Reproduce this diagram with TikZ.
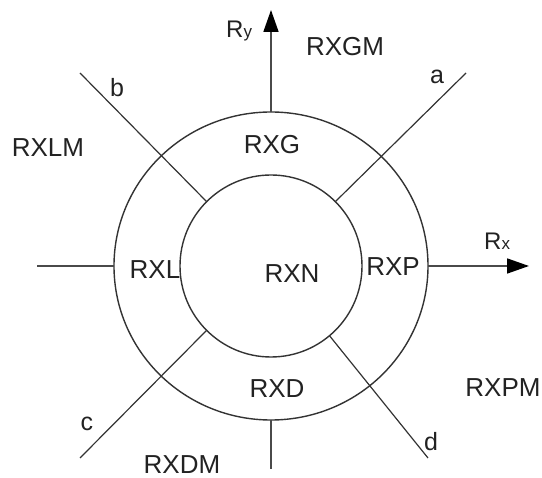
\documentclass[tikz,border=0pt]{standalone}
\usepackage{fontspec}
\setmainfont{Liberation Sans}
\usetikzlibrary{shapes.geometric,arrows.meta}
\definecolor{ink}{HTML}{222222}
\definecolor{linecol}{HTML}{333333}
\definecolor{axiscol}{HTML}{4A4A4A}
\tikzset{
  ring/.style={draw=linecol, line width=1.4pt, inner sep=0pt, outer sep=0pt},
  spoke/.style={draw=linecol, line width=1.2pt},
  axis/.style={draw=axiscol, line width=1.7pt},
  axisarrow/.style={axis, -{Triangle[length=22pt,width=15pt,color=black]}},
  biglab/.style={inner sep=0pt, text=ink, font=\fontsize{26}{26}\selectfont},
  smalllab/.style={inner sep=0pt, text=ink, font=\fontsize{25}{25}\selectfont},
  axislab/.style={inner sep=0pt, text=ink, anchor=base west}
}
\begin{document}
\begin{tikzpicture}[x=1pt,y=-1pt]
\useasboundingbox (0,0) rectangle (542,478);
% rings
\node[ring, ellipse, minimum width=314pt, minimum height=308pt] (outer) at (271,266) {};
\node[ring, circle, minimum size=182pt] (inner) at (271,266) {};
% free ends
\coordinate (ytip) at (271,10);
\coordinate (xtip) at (529,266);
\coordinate (xleft) at (37,266);
\coordinate (ybot) at (271,469);
\coordinate (aend) at (466,73);
\coordinate (bend) at (80,73);
\coordinate (cend) at (80,458);
\coordinate (dend) at (428,458);
% axes
\draw[axisarrow] (outer.north) -- (ytip);
\draw[axisarrow] (outer.east) -- (xtip);
\draw[axis] (xleft) -- (outer.west);
\draw[axis] (outer.south) -- (ybot);
% diagonals
\draw[spoke] (inner.45) -- (aend);
\draw[spoke] (inner.135) -- (bend);
\draw[spoke] (inner.225) -- (cend);
\draw[spoke] (inner.-50) -- (dend);
% axis labels
\node[axislab] (ry) at (226,38) {{\fontsize{24}{24}\selectfont R}{\fontsize{17}{17}\selectfont y}};
\node[axislab] (rx) at (484,250) {{\fontsize{24}{24}\selectfont R}{\fontsize{17}{17}\selectfont x}};
% region labels
\node[biglab] (rxgm) at (345,47) {RXGM};
\node[biglab] (rxlm) at (48,148) {RXLM};
\node[biglab] (rxg) at (272,145) {RXG};
\node[biglab] (rxl) at (155,270) {RXL};
\node[biglab] (rxn) at (292,274) {RXN};
\node[biglab] (rxp) at (393,267) {RXP};
\node[biglab] (rxd) at (277,389) {RXD};
\node[biglab] (rxpm) at (503,388) {RXPM};
\node[biglab] (rxdm) at (182,465) {RXDM};
% line labels
\node[smalllab] (la) at (437,77) {a};
\node[smalllab] (lb) at (117,88) {b};
\node[smalllab] (lc) at (87,424) {c};
\node[smalllab] (ld) at (431,442) {d};
\end{tikzpicture}
\end{document}
